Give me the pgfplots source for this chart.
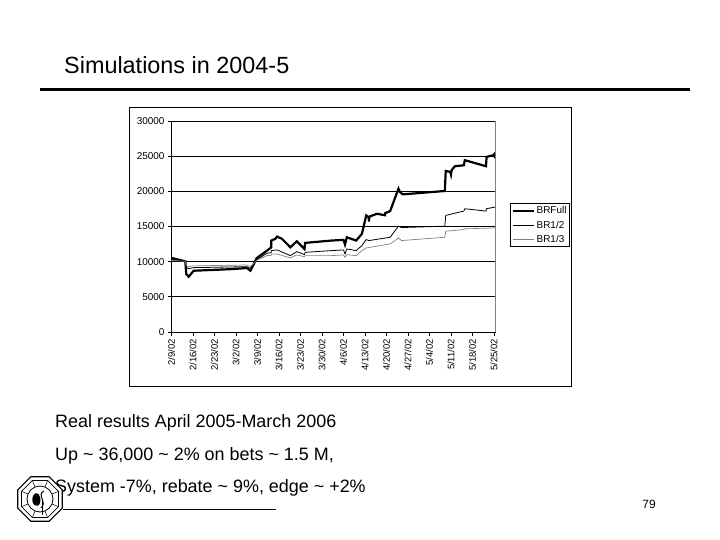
\documentclass[border=0pt]{standalone}
\usepackage{pgfplots}
\pgfplotsset{compat=1.18}
\usepackage{fontspec}
\setmainfont{Liberation Sans}
\usetikzlibrary{shapes.geometric}

\begin{document}
\begin{tikzpicture}
\path[use as bounding box] (0bp,0bp) rectangle (720bp,-540bp);

% slide heading
\node[anchor=base west, inner sep=0pt, font=\fontsize{23.5}{27}\selectfont] at (64bp,-73bp) {Simulations in 2004-5};
\draw[line width=3.3bp] (40bp,-89.5bp) -- (690bp,-89.5bp);

% chart area frame
\draw[line width=0.8bp] (129bp,-107bp) rectangle (571bp,-386bp);

\begin{axis}[
  at={(171.5bp,-332bp)}, anchor=south west,
  scale only axis, width=324bp, height=211bp,
  xmin=0, xmax=105.5, ymin=0, ymax=30000,
  axis x line*=bottom, axis y line*=left,
  axis line style={black, line width=0.8bp},
  xtick={0,7,...,105},
  xticklabels={2/9/02,2/16/02,2/23/02,3/2/02,3/9/02,3/16/02,3/23/02,3/30/02,4/6/02,4/13/02,4/20/02,4/27/02,5/4/02,5/11/02,5/18/02,5/25/02},
  ytick={0,5000,...,30000},
  scaled y ticks=false,
  /pgf/number format/1000 sep={},
  /pgf/number format/assume math mode=true,
  ymajorgrids, grid style={black, line width=0.8bp},
  tick align=outside, major tick length=3.5bp,
  tick style={black, line width=0.7bp},
  y tick label style={font=\fontsize{10}{11}\selectfont},
  x tick label style={rotate=90, anchor=east, font=\fontsize{9.5}{10}\selectfont},
  legend style={at={(1.045,0.61)}, anchor=north west, draw=black, line width=0.7bp,
    font=\fontsize{10}{11}\selectfont, inner sep=1bp, row sep=1.5bp,
    cells={anchor=west}},
  legend image code/.code={\draw[#1] (0bp,0bp) -- (21bp,0bp);},
]
\addplot[black, line width=2.2bp] coordinates {
(0,10530) (4.5,10040) (4.8,8240) (5.6,7860) (7.2,8710) (12,8800) (20,8950) (24.5,9100)
(25.7,8710) (27.8,10530) (31.1,11570) (32.5,12040) (32.5,13000) (33.8,13240) (34.4,13570)
(36,13240) (38.7,12040) (40.8,12900) (43.3,11810) (43.5,12670) (52,13000) (56,13100)
(56.5,12430) (57.1,13470) (60.1,13000) (62,13950) (63.4,16570) (64.2,16330) (64.3,15700)
(64.4,16400) (66.9,16810) (69.5,16600) (69.6,16900) (71.2,17190) (73.9,20380) (74.4,19900)
(75.3,19570) (89,20050) (89.3,22900) (90.8,22760) (91,22400) (91.2,23000) (92.3,23570)
(95.2,23710) (95.5,24430) (102.4,23570) (102.6,24900) (104.8,25140) (105.3,25380) (105.3,24670)
};
\addlegendentry{BRFull}
\addplot[black, line width=0.8bp] coordinates {
(0,10350) (4.5,10040) (4.8,9200) (5.6,9000) (7.2,9150) (24.5,9290) (25.7,9050)
(27.8,10300) (31.1,11190) (32.5,11300) (32.5,11570) (34.4,11670) (38.7,10860) (40.8,11430)
(43.3,11000) (43.5,11330) (52,11570) (56,11670) (56.5,11100) (57.1,11810) (60.1,11570)
(62,12290) (63.4,13140) (64.3,13000) (71.2,13470) (73.9,15050) (74.9,14850) (89,15050)
(89.3,16570) (92.3,16900) (95.2,17190) (95.5,17530) (102.4,17190) (102.6,17530) (105.3,17760)
};
\addlegendentry{BR1/2}
\addplot[black!50, line width=0.7bp] coordinates {
(0,10200) (4.5,10040) (4.8,9450) (5.6,9300) (7.2,9400) (24.5,9530) (25.7,9300)
(27.8,10200) (31.1,10860) (32.5,10900) (32.5,11100) (34.4,11100) (38.7,10530) (40.8,10960)
(43.3,10710) (43.5,10860) (52,10860) (56,10960) (56.5,10600) (57.1,11000) (60.1,10860)
(62,11570) (63.4,11950) (71.2,12520) (73.9,13380) (74.9,13000) (89,13470) (89.3,14330)
(95.2,14570) (95.5,14670) (102.4,14760) (105.3,14810)
};
\addlegendentry{BR1/3}
\end{axis}
\draw[black!50, line width=0.7bp] (495.5bp,-121bp) -- (495.5bp,-332bp);

% bullet text
\begin{scope}[every node/.style={anchor=base west, inner sep=0pt, font=\fontsize{18}{21}\selectfont}]
\node at (55bp,-427bp) {Real results April 2005-March 2006};
\node at (55bp,-460bp) {Up \textasciitilde{} 36,000 \textasciitilde{} 2\% on bets \textasciitilde{} 1.5 M,};
\node at (55bp,-492bp) {System -7\%, rebate \textasciitilde{} 9\%, edge \textasciitilde{} +2\%};
\end{scope}

% footer
\draw[line width=1.6bp] (63bp,-509.5bp) -- (276bp,-509.5bp);
\node[anchor=base, inner sep=0pt, font=\fontsize{12}{14}\selectfont] at (649bp,-508bp) {79};

% logo
\begin{scope}[shift={(40bp,-499bp)}]
\node[regular polygon, regular polygon sides=8, draw, line width=1.2bp, minimum size=48bp, fill=white] {};
\node[regular polygon, regular polygon sides=8, draw, line width=0.6bp, minimum size=40bp] {};
\foreach \a in {0,45,...,315} \draw[line width=0.5bp] (\a+22.5:13bp) -- (\a+22.5:20bp);
\draw[line width=0.8bp, fill=white] (0,0) circle (13bp);
\fill[black] (-7bp,3bp) .. controls (-10bp,-6bp) and (-2bp,-10bp) .. (0bp,-4bp)
  .. controls (2bp,3bp) and (-3bp,10bp) .. (-7bp,3bp);
\draw[line width=1bp] (4bp,8bp) .. controls (-4bp,4bp) and (8bp,-3bp) .. (1bp,-9bp);
\draw[line width=0.8bp] (2bp,-2bp) -- (2bp,-16bp);
\end{scope}
\end{tikzpicture}
\end{document}
